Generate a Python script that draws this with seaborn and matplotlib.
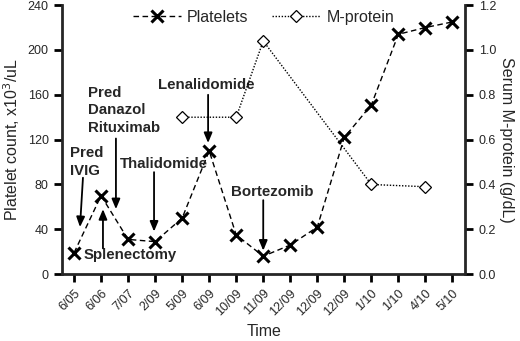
import matplotlib
matplotlib.use("Agg")
import matplotlib.pyplot as plt
import numpy as np
import pandas as pd
import seaborn as sns

# data
dates = ["6/05", "6/06", "7/07", "2/09", "5/09", "6/09", "10/09", "11/09",
         "12/09", "12/09", "12/09", "1/10", "1/10", "4/10", "5/10"]
platelets = [19, 70, 31, 29, 50, 110, 35, 16, 26, 42, 122, 151, 214, 220, 225]
mprotein = [np.nan, np.nan, np.nan, np.nan, 0.70, np.nan, 0.70, 1.04,
            np.nan, np.nan, np.nan, 0.40, np.nan, 0.39, np.nan]

# treatment annotations: label, text pos, arrow start, arrow tip
events = [
    ("Pred\nIVIG", (-0.15, 100), (0.33, 86), (0.22, 42)),
    ("Splenectomy", (0.35, 17), (1.07, 23), (1.07, 58)),
    ("Pred\nDanazol\nRituximab", (0.52, 146), (1.55, 121), (1.55, 58)),
    ("Thalidomide", (1.7, 98), (2.96, 91), (2.96, 38)),
    ("Lenalidomide", (3.1, 169), (4.96, 160), (4.96, 117)),
    ("Bortezomib", (5.8, 73), (7.0, 66), (7.0, 21)),
]

sns.set_style("ticks")
plt.rcParams["font.family"] = ["Liberation Sans", "DejaVu Sans"]

df = pd.DataFrame({"pos": np.arange(len(dates)), "platelets": platelets,
                   "mprotein": mprotein})
dm = df.dropna(subset=["mprotein"])

fig = plt.figure(figsize=(5.2, 3.41), dpi=100)
ax = fig.add_axes([0.119, 0.196, 0.776, 0.789])
ax2 = ax.twinx()

sns.lineplot(data=df, x="pos", y="platelets", ax=ax, color="black",
             linestyle=(0, (4, 2.5)), linewidth=1.0, marker="x", markersize=8,
             markeredgewidth=2.2, markeredgecolor="black", label="Platelets",
             legend=False)
sns.lineplot(data=dm, x="pos", y="mprotein", ax=ax2, color="black",
             linestyle=(0, (1, 1.2)), linewidth=1.0, marker="D", markersize=6,
             markerfacecolor="white", markeredgecolor="black",
             markeredgewidth=0.9, label="M-protein", legend=False)

ax.set_xlim(-0.45, 14.48)
ax.set_ylim(0, 240)
ax.set_yticks([0, 40, 80, 120, 160, 200, 240])
ax.set_xticks(df["pos"])
ax.set_xticklabels(dates, rotation=45, ha="right", rotation_mode="anchor")
ax2.set_ylim(0, 1.2)
ax2.set_yticks([0, 0.2, 0.4, 0.6, 0.8, 1.0, 1.2])
ax2.set_yticklabels(["0.0", "0.2", "0.4", "0.6", "0.8", "1.0", "1.2"])

ax.set_xlabel("Time", fontsize=11.5)
ax.set_ylabel("Platelet count, x10$^3$/uL", fontsize=11.5, labelpad=4)
ax2.set_ylabel("Serum M-protein (g/dL)", fontsize=11.5, rotation=270, labelpad=13)

for a in (ax, ax2):
    a.spines["top"].set_visible(False)
    for s in a.spines.values():
        s.set_linewidth(2)
    a.tick_params(width=2, length=6, labelsize=9, color="black")
ax2.spines["left"].set_visible(False)
ax2.spines["bottom"].set_visible(False)
ax.spines["right"].set_visible(False)

for label, tpos, start, tip in events:
    ax.text(tpos[0], tpos[1], label, fontsize=10.8, fontweight="bold",
            va="center", ha="left", linespacing=1.35)
    ax.annotate("", xy=tip, xytext=start,
                arrowprops=dict(arrowstyle="-|>,head_width=0.25,head_length=0.6",
                                color="black", lw=1.3, shrinkA=0, shrinkB=0))

h1, l1 = ax.get_legend_handles_labels()
h2, l2 = ax2.get_legend_handles_labels()
ax.legend(h1 + h2, l1 + l2, loc="upper center", bbox_to_anchor=(0.5, 1.035),
          ncol=2, frameon=False, fontsize=11.5, handlelength=3,
          columnspacing=1.5, handletextpad=0.4)

fig.savefig("out.png", dpi=100)
